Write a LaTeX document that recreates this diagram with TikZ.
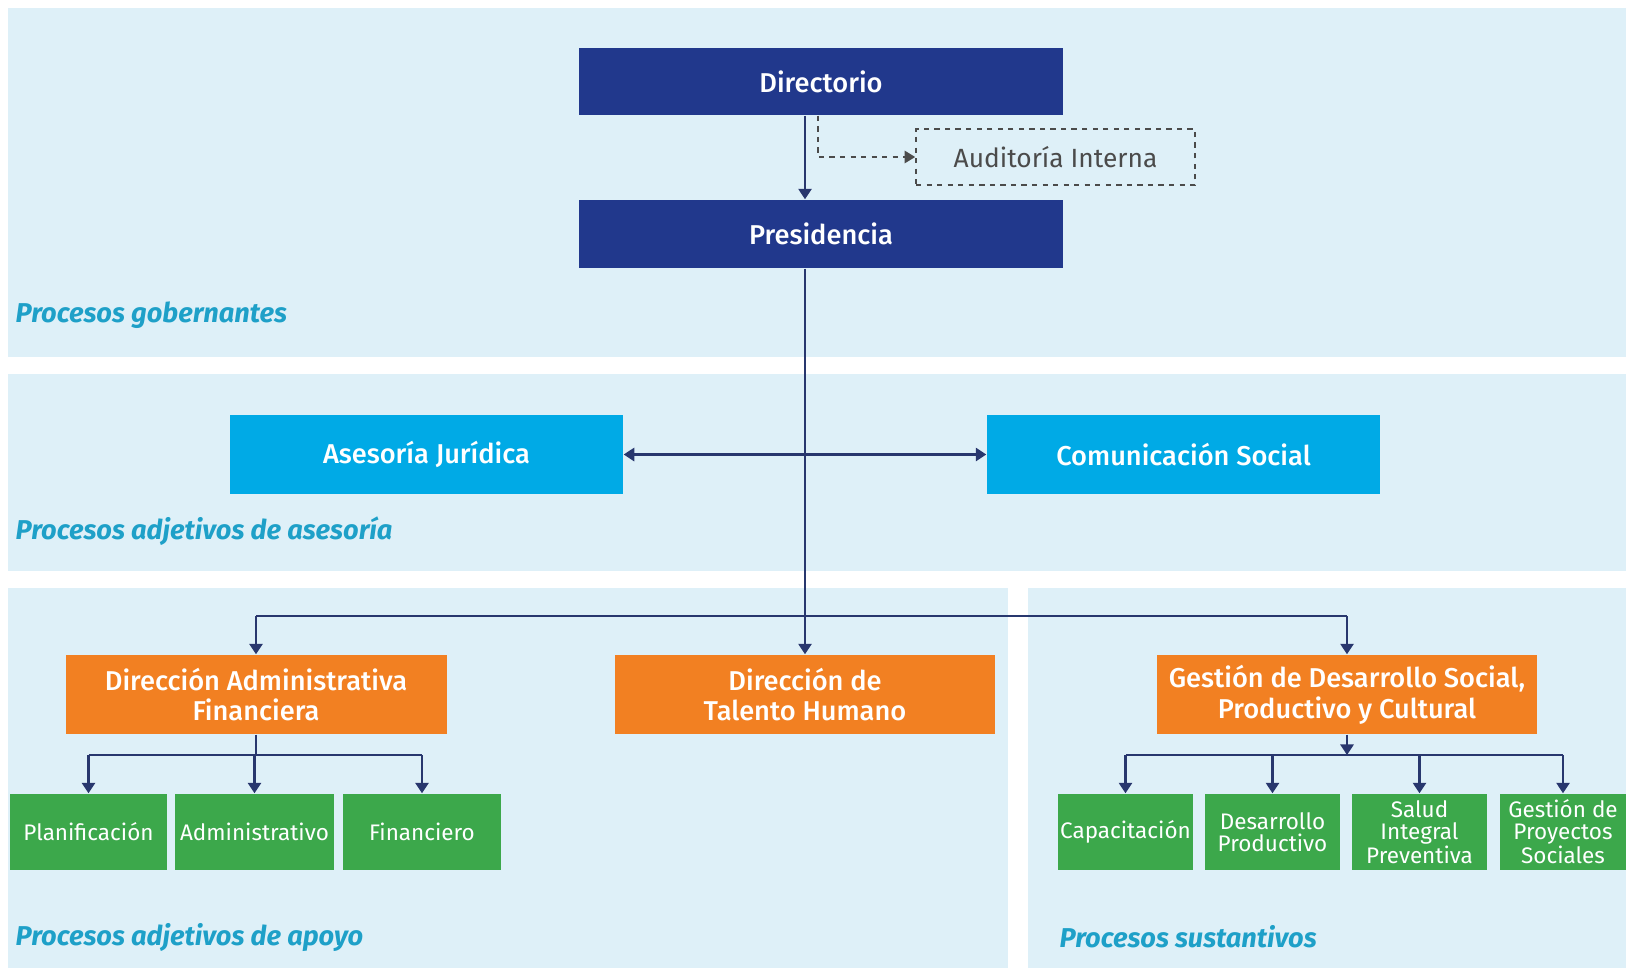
\documentclass[tikz,border=0pt]{standalone}
\usepackage{fontspec}
\setmainfont{Fira Sans}
\newfontfamily\medfont{Fira Sans Medium}
\usetikzlibrary{arrows.meta}

\definecolor{bandbg}{RGB}{222,240,248}
\definecolor{navyc}{RGB}{33,56,140}
\definecolor{skyc}{RGB}{0,170,230}
\definecolor{orangec}{RGB}{242,128,34}
\definecolor{greenc}{RGB}{60,168,75}
\definecolor{linec}{RGB}{40,55,110}
\definecolor{labelc}{RGB}{30,160,200}
\definecolor{grayc}{RGB}{75,75,75}

\begin{document}
\begin{tikzpicture}[x=0.02cm,y=-0.02cm,thick,
	boxdim/.style 2 args={minimum width=#1*0.02cm,minimum height=#2*0.02cm,inner sep=0pt},
	navybox/.style={fill=navyc,text=white,font=\medfont\fontsize{15.5}{18}\selectfont},
	skybox/.style={fill=skyc,text=white,font=\medfont\fontsize{15.5}{18}\selectfont},
	orangebox/.style={fill=orangec,text=white,font=\medfont\fontsize{15.5}{17.5}\selectfont},
	greenbox/.style={fill=greenc,text=white,font=\fontsize{12.8}{12.5}\selectfont},
	dashbox/.style={draw=grayc,dashed,line width=0.9pt,text=grayc,font=\fontsize{15}{17}\selectfont},
	proclabel/.style={anchor=west,inner sep=0pt,text=labelc,font=\bfseries\itshape\fontsize{15.5}{17}\selectfont},
	arr/.style={draw=linec,line width=1.3pt,-{Triangle[length=6pt,width=7.5pt]}},
	link/.style={draw=linec,line width=1.3pt}]
	\tikzstyle{every node} = [align=center]

	\useasboundingbox (0,0) rectangle (1626,974);
	\fill[white] (0,0) rectangle (1626,974);
	\fill[bandbg] (8,8) rectangle (1626,357);
	\fill[bandbg] (8,374) rectangle (1626,571);
	\fill[bandbg] (8,588) rectangle (1008,968);
	\fill[bandbg] (1028,588) rectangle (1626,968);

	\node (lblgob) [proclabel] at (15,315) {Procesos gobernantes};
	\node (lblase) [proclabel] at (15,531) {Procesos adjetivos de asesoría};
	\node (lblapo) [proclabel] at (15,937) {Procesos adjetivos de apoyo};
	\node (lblsus) [proclabel] at (1059,937) {Procesos sustantivos};

	\node (directorio) [navybox,boxdim={484}{67}] at (821,81.5) {Directorio};
	\node (presidencia) [navybox,boxdim={484}{68}] at (821,234) {Presidencia};
	\node (auditoria) [dashbox,boxdim={279}{56}] at (1055.5,157) {Auditoría Interna};

	\node (asesoria) [skybox,boxdim={393}{79}] at (426.5,454.5) {Asesoría Jurídica};
	\node (comunicacion) [skybox,boxdim={393}{79}] at (1183.5,454.5) {Comunicación Social};

	\node (daf) [orangebox,boxdim={381}{79}] at (256,694.5) {Dirección Administrativa\\Financiera};
	\node (dth) [orangebox,boxdim={380}{79}] at (805,694.5) {Dirección de\\Talento Humano};
	\node (gds) [orangebox,boxdim={380}{79}] at (1347,694.5) {Gestión de Desarrollo Social,\\Productivo y Cultural};

	\node (planif) [greenbox,boxdim={157}{76}] at (88.5,832) {Planificación};
	\node (admin) [greenbox,boxdim={159}{76}] at (254.5,832) {Administrativo};
	\node (financ) [greenbox,boxdim={158}{76}] at (422,832) {Financiero};

	\node (capac) [greenbox,boxdim={135}{76}] at (1125.5,832) {Capacitación};
	\node (desprod) [greenbox,boxdim={135}{76}] at (1272.5,832) {Desarrollo\\Productivo};
	\node (salud) [greenbox,boxdim={135}{76}] at (1419.5,832) {Salud\\Integral\\Preventiva};
	\node (gproy) [greenbox,boxdim={126}{76}] at (1563,832) {Gestión de\\Proyectos\\Sociales};

	\coordinate (trunk) at (805,616);
	\coordinate (audit) at (818,0);
	\coordinate (dafbar) at (256,755);
	\coordinate (gdsbar) at (1347,755);

	\draw [arr] (directorio.south -| trunk) -- (presidencia.north -| trunk);
	\draw [draw=grayc,dashed,line width=1pt,-{Triangle[length=6pt,width=7pt]}]
	(directorio.south -| audit) |- (auditoria.west);
	\draw [link] (presidencia.south -| trunk) -- (trunk);
	\draw [arr] (asesoria.east -| trunk) -- (asesoria.east);
	\draw [arr] (comunicacion.west -| trunk) -- (comunicacion.west);
	\draw [link] (daf.north |- trunk) -- (gds.north |- trunk);
	\draw [arr] (daf.north |- trunk) -- (daf.north);
	\draw [arr] (trunk) -- (dth.north);
	\draw [arr] (gds.north |- trunk) -- (gds.north);

	\draw [link] (daf.south) -- (dafbar);
	\draw [link] (planif.north |- dafbar) -- (financ.north |- dafbar);
	\foreach \sub in {planif,admin,financ}
	\draw [arr] (\sub.north |- dafbar) -- (\sub.north);

	\draw [arr] (gds.south) -- (gdsbar);
	\draw [link] (capac.north |- gdsbar) -- (gproy.north |- gdsbar);
	\foreach \sub in {capac,desprod,salud,gproy}
	\draw [arr] (\sub.north |- gdsbar) -- (\sub.north);
\end{tikzpicture}
\end{document}
